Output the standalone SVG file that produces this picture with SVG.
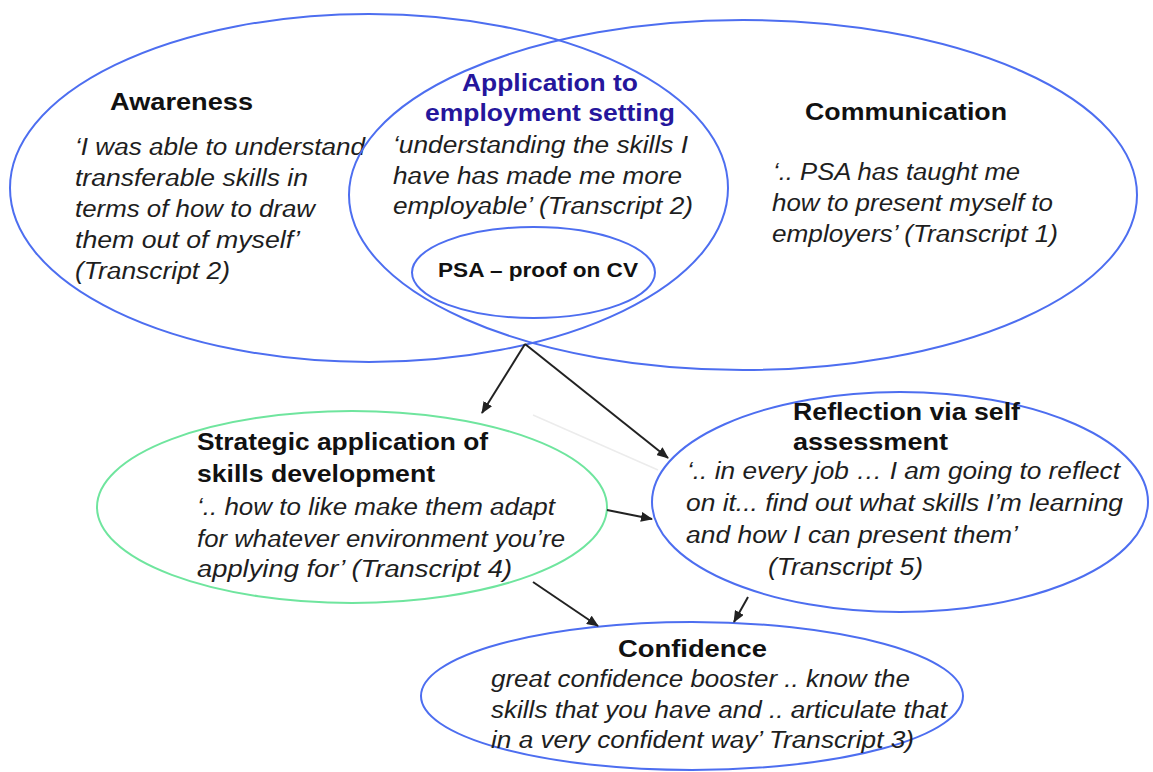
<svg xmlns="http://www.w3.org/2000/svg" width="1153" height="772" viewBox="0 0 1153 772">
<defs>
<style>
.ell{fill:none;stroke:#4d6ef0;stroke-width:2}
.grn{fill:none;stroke:#6fe59e;stroke-width:2}
.t{font-family:"Liberation Sans",Arial,sans-serif;font-weight:bold;font-size:24px;fill:#111}
.ap{font-family:"Liberation Sans",Arial,sans-serif;font-weight:bold;font-size:24px;fill:#25169c}
.q{font-family:"Liberation Sans",Arial,sans-serif;font-style:italic;font-size:23px;fill:#1e1e1e}
.psa{font-family:"Liberation Sans",Arial,sans-serif;font-weight:bold;font-size:20px;fill:#111}
.arr{stroke:#222;stroke-width:2;fill:none;marker-end:url(#ah)}
</style>
<marker id="ah" markerUnits="userSpaceOnUse" markerWidth="12" markerHeight="10" refX="11" refY="5" orient="auto">
<path d="M0,0 L12,5 L0,10 z" fill="#222"/>
</marker>
</defs>
<rect width="1153" height="772" fill="#fff"/>

<g id="awareness">
<ellipse class="ell" cx="369" cy="188" rx="359" ry="174"/>
<text class="t" x="110" y="110" textLength="143" lengthAdjust="spacingAndGlyphs">Awareness</text>
<text class="q" x="75" y="155" textLength="290" lengthAdjust="spacingAndGlyphs">‘I was able to understand</text>
<text class="q" x="75" y="186" textLength="233" lengthAdjust="spacingAndGlyphs">transferable skills in</text>
<text class="q" x="75" y="217" textLength="240" lengthAdjust="spacingAndGlyphs">terms of how to draw</text>
<text class="q" x="75" y="248" textLength="225" lengthAdjust="spacingAndGlyphs">them out of myself’</text>
<text class="q" x="75" y="279" textLength="155" lengthAdjust="spacingAndGlyphs">(Transcript 2)</text>
</g>

<g id="communication">
<ellipse class="ell" cx="743" cy="195" rx="394" ry="175"/>
<text class="t" x="805" y="120" textLength="202" lengthAdjust="spacingAndGlyphs">Communication</text>
<text class="q" x="773" y="180" textLength="247" lengthAdjust="spacingAndGlyphs">‘.. PSA has taught me</text>
<text class="q" x="772" y="211" textLength="281" lengthAdjust="spacingAndGlyphs">how  to present myself to</text>
<text class="q" x="772" y="242" textLength="286" lengthAdjust="spacingAndGlyphs">employers’ (Transcript 1)</text>
</g>

<g id="application">
<text class="ap" x="462" y="91" textLength="176" lengthAdjust="spacingAndGlyphs">Application to</text>
<text class="ap" x="425" y="121" textLength="250" lengthAdjust="spacingAndGlyphs">employment setting</text>
<text class="q" x="393" y="153" textLength="295" lengthAdjust="spacingAndGlyphs">‘understanding the skills I</text>
<text class="q" x="393" y="184" textLength="289" lengthAdjust="spacingAndGlyphs">have has made me more</text>
<text class="q" x="393" y="214" textLength="300" lengthAdjust="spacingAndGlyphs">employable’ (Transcript 2)</text>
</g>

<g id="psa">
<ellipse class="ell" cx="533.5" cy="272.5" rx="121.5" ry="45.5"/>
<text class="psa" x="438" y="277" textLength="200" lengthAdjust="spacingAndGlyphs">PSA  – proof on CV</text>
</g>

<g id="strategic">
<ellipse class="grn" cx="352" cy="507" rx="255" ry="96"/>
<text class="t" x="197" y="450" textLength="291" lengthAdjust="spacingAndGlyphs">Strategic application of</text>
<text class="t" x="197" y="482" textLength="238" lengthAdjust="spacingAndGlyphs">skills development</text>
<text class="q" x="197" y="515" textLength="358" lengthAdjust="spacingAndGlyphs">‘.. how  to like make them adapt</text>
<text class="q" x="197" y="547" textLength="368" lengthAdjust="spacingAndGlyphs">for whatever environment you’re</text>
<text class="q" x="197" y="577" textLength="315" lengthAdjust="spacingAndGlyphs">applying  for’  (Transcript 4)</text>
</g>

<g id="reflection">
<ellipse class="ell" cx="900" cy="502" rx="248" ry="110"/>
<text class="t" x="793" y="420" textLength="227" lengthAdjust="spacingAndGlyphs">Reflection via self</text>
<text class="t" x="793" y="450" textLength="155" lengthAdjust="spacingAndGlyphs">assessment</text>
<text class="q" x="687" y="479" textLength="433" lengthAdjust="spacingAndGlyphs">‘.. in every job … I am going to reflect</text>
<text class="q" x="686" y="511" textLength="437" lengthAdjust="spacingAndGlyphs">on it... find out what  skills I’m learning</text>
<text class="q" x="686" y="543" textLength="332" lengthAdjust="spacingAndGlyphs">and how I can present them’</text>
<text class="q" x="768" y="575" textLength="155" lengthAdjust="spacingAndGlyphs">(Transcript 5)</text>
</g>

<g id="confidence">
<ellipse class="ell" cx="692" cy="696" rx="271" ry="74"/>
<text class="t" x="618" y="657" textLength="149" lengthAdjust="spacingAndGlyphs">Confidence</text>
<text class="q" x="491" y="687" textLength="419" lengthAdjust="spacingAndGlyphs">great confidence booster .. know the</text>
<text class="q" x="491" y="718" textLength="456" lengthAdjust="spacingAndGlyphs">skills that you have and .. articulate that</text>
<text class="q" x="491" y="748" textLength="423" lengthAdjust="spacingAndGlyphs">in a very confident way’ Transcript 3)</text>
</g>

<g id="connectors">
<line class="arr" x1="525" y1="344" x2="482" y2="413"/>
<line class="arr" x1="525" y1="344" x2="668" y2="458"/>
<line x1="533" y1="415" x2="658" y2="470" stroke="#ececec" stroke-width="1.5"/>
<line class="arr" x1="607" y1="510" x2="652" y2="519"/>
<line class="arr" x1="533" y1="582" x2="598" y2="626"/>
<line class="arr" x1="748" y1="597" x2="734" y2="622"/>
</g>
</svg>
